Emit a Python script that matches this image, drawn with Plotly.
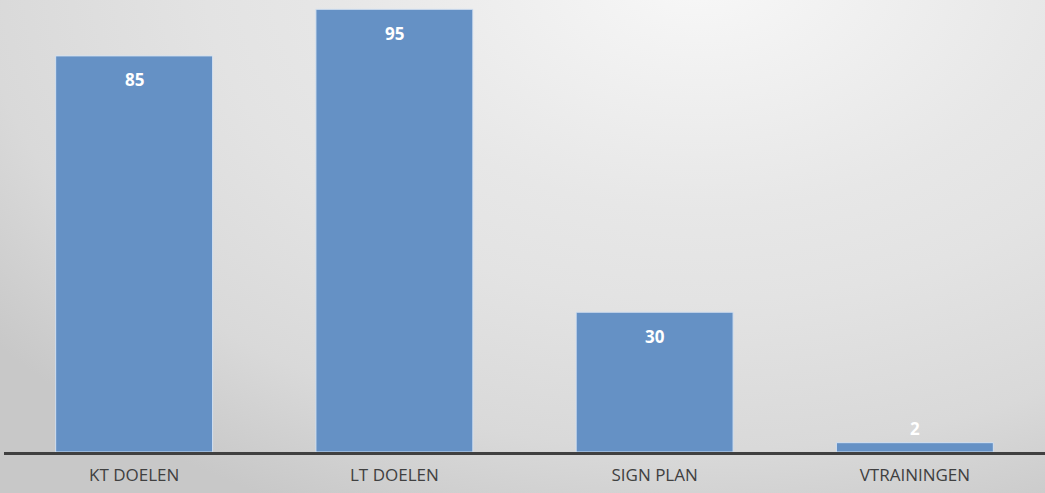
import base64
import plotly.graph_objects as go

categories = ["KT DOELEN", "LT DOELEN", "SIGN PLAN", "VTRAININGEN"]
values = [85, 95, 30, 2]

W, H = 1045, 493
ML, MR, MT, MB = 4, 0, 0, 41
YMAX = 97

# radial background gradient as inline SVG
svg = f'''<svg xmlns="http://www.w3.org/2000/svg" width="{W}" height="{H}" viewBox="0 0 {W} {H}" preserveAspectRatio="none">
<defs><radialGradient id="g" gradientUnits="userSpaceOnUse" cx="700" cy="-30" r="900" gradientTransform="translate(700,-30) scale(1,0.667) translate(-700,30)">
<stop offset="0" stop-color="#f8f8f8"/>
<stop offset="0.4" stop-color="#e7e7e7"/>
<stop offset="0.55" stop-color="#e3e3e3"/>
<stop offset="0.8" stop-color="#d9d9d9"/>
<stop offset="1" stop-color="#c8c8c8"/>
</radialGradient></defs>
<rect x="0" y="0" width="{W}" height="{H}" fill="url(#g)"/></svg>'''
src = "data:image/svg+xml;base64," + base64.b64encode(svg.encode()).decode()

pw = W - ML - MR
ph = H - MT - MB

fig = go.Figure()
fig.add_trace(go.Bar(
    x=categories, y=values,
    marker=dict(color="#6591C5", line=dict(color="#D3E0F0", width=1)),
    hoverinfo="x+y",
))

px_per_unit = ph / YMAX
for c, v in zip(categories, values):
    inside = v * px_per_unit > 40
    fig.add_annotation(
        x=c, y=v, xref="x", yref="y", text=f"<b>{v}</b>", showarrow=False,
        yanchor="middle", yshift=-24 if inside else 14,
        font=dict(family="Open Sans", size=17, color="white"),
    )

fig.add_layout_image(dict(
    source=src, xref="paper", yref="paper",
    x=-ML / pw, y=1 + MT / ph, sizex=W / pw, sizey=H / ph,
    xanchor="left", yanchor="top", sizing="stretch", layer="below",
))

fig.update_layout(
    width=W, height=H,
    margin=dict(l=ML, r=MR, t=MT, b=MB),
    paper_bgcolor="#dcdcdc", plot_bgcolor="rgba(0,0,0,0)",
    bargap=0.397, showlegend=False,
    xaxis=dict(showline=True, linecolor="#404040", linewidth=3, showgrid=False,
               ticks="outside", ticklen=6, tickcolor="rgba(0,0,0,0)",
               tickfont=dict(family="Open Sans", size=17, color="#404040")),
    yaxis=dict(range=[0, YMAX], visible=False, showgrid=False, zeroline=False),
)

fig.write_html(
    "out.html",
    config={"displayModeBar": False},
    post_script="document.body.style.margin='0';document.body.style.overflow='hidden';",
)
